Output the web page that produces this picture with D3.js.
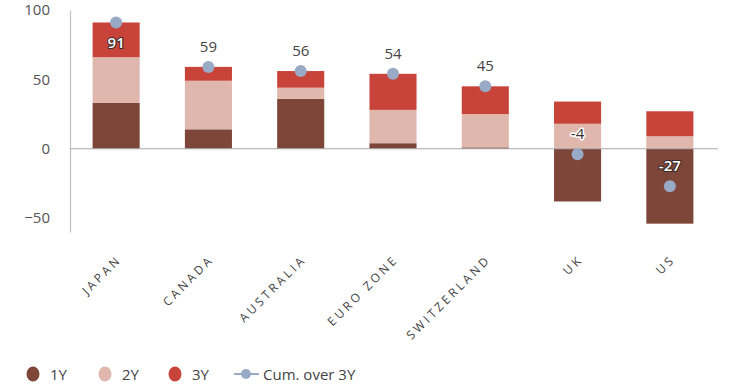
<!DOCTYPE html>
<html>
<head>
<meta charset="utf-8">
<script src="https://cdn.jsdelivr.net/npm/d3@7"></script>
<style>
  body { margin: 0; background: #fff; }
  svg { display: block; font-family: 'Open Sans', sans-serif; }
</style>
</head>
<body>
<svg id="svg"></svg>
<script>
// data
const countries = ['JAPAN', 'CANADA', 'AUSTRALIA', 'EURO ZONE', 'SWITZERLAND', 'UK', 'US'];
const y1 = [33, 14, 36, 4, 1, -38, -54];
const y2 = [33, 35, 8, 24, 24, 18, 9];
const y3 = [25, 10, 12, 26, 20, 16, 18];
const cum = [91, 59, 56, 54, 45, -4, -27];
const yTicks = [-50, 0, 50, 100];

const keys = ['1Y', '2Y', '3Y'];
const colours = { '1Y': '#7e4539', '2Y': '#e0b7ac', '3Y': '#c8443a' };
const dotColour = '#98aac6';

const width = 730;
const height = 389;

const rows = countries.map((c, i) => ({ country: c, '1Y': y1[i], '2Y': y2[i], '3Y': y3[i], cum: cum[i] }));

const svg = d3.select('#svg')
  .attr('width', width)
  .attr('height', height);

// SCALES
const xScale = d3.scaleBand()
  .domain(countries)
  .range([70, 716])
  .paddingInner(0.49)
  .paddingOuter(0.245);

const yScale = d3.scaleLinear()
  .domain([-60, 100])
  .range([232, 10]);

// Y AXIS (line + labels only)
const yAxis = svg.append('g')
  .attr('transform', 'translate(70,0)')
  .call(d3.axisLeft(yScale).tickValues(yTicks).tickSize(0).tickPadding(20));
yAxis.select('.domain').attr('stroke', '#c4c4c4').attr('stroke-width', 1.3);
yAxis.selectAll('text')
  .attr('font-size', '15px')
  .attr('font-family', "'Open Sans', sans-serif")
  .attr('fill', '#555');

// STACKED BARS
const series = d3.stack().keys(keys).offset(d3.stackOffsetDiverging)(rows);

svg.append('g')
  .selectAll('g')
  .data(series)
  .join('g')
  .attr('fill', d => colours[d.key])
  .selectAll('rect')
  .data(d => d)
  .join('rect')
  .attr('x', d => xScale(d.data.country))
  .attr('y', d => yScale(Math.max(d[0], d[1])))
  .attr('width', xScale.bandwidth())
  .attr('height', d => Math.abs(yScale(d[0]) - yScale(d[1])));

// ZERO LINE
svg.append('line')
  .attr('x1', 70).attr('x2', 718)
  .attr('y1', yScale(0)).attr('y2', yScale(0))
  .attr('stroke', '#a8a8a8')
  .attr('stroke-width', 1);

// CUMULATIVE DOTS
const cx = d => xScale(d.country) + xScale.bandwidth() / 2;
svg.append('g')
  .selectAll('circle')
  .data(rows)
  .join('circle')
  .attr('cx', cx)
  .attr('cy', d => yScale(d.cum))
  .attr('r', 6)
  .attr('fill', dotColour);

// which segment sits behind a value
function segmentAt(d, v) {
  const s = series.map(k => k.find(p => p.data.country === d.country));
  for (let i = 0; i < keys.length; i++) {
    const lo = Math.min(s[i][0], s[i][1]), hi = Math.max(s[i][0], s[i][1]);
    if (v >= lo && v <= hi && hi > lo) return keys[i];
  }
  return null;
}

// LABELS
const labels = svg.append('g')
  .selectAll('text')
  .data(rows)
  .join('text')
  .attr('x', cx)
  .attr('y', d => {
    const py = yScale(d.cum);
    return py - 21 < 12 ? py + 20 : py - 21;
  })
  .attr('text-anchor', 'middle')
  .attr('dominant-baseline', 'central')
  .attr('font-size', '15px')
  .attr('paint-order', 'stroke')
  .attr('stroke-linejoin', 'round')
  .text(d => d.cum);

labels.each(function(d) {
  const t = d3.select(this);
  const v = yScale.invert(+t.attr('y'));
  const seg = segmentAt(d, v);
  if (seg === '1Y' || seg === '3Y') {
    t.attr('fill', '#fff').attr('stroke', '#3a2a28').attr('stroke-width', 2.2).attr('font-weight', 600);
  } else if (seg === '2Y') {
    t.attr('fill', '#333').attr('stroke', '#fff').attr('stroke-width', 3);
  } else {
    t.attr('fill', '#444').attr('stroke', 'none');
  }
});

// X LABELS
svg.append('g')
  .selectAll('text')
  .data(countries)
  .join('text')
  .attr('transform', d => `translate(${xScale(d) + xScale.bandwidth() / 2 + 3},${257}) rotate(-45)`)
  .attr('text-anchor', 'end')
  .attr('dominant-baseline', 'central')
  .attr('font-size', '12px')
  .attr('letter-spacing', '3px')
  .attr('fill', '#444')
  .text(d => d);

// LEGEND
const legend = svg.append('g').attr('transform', 'translate(0,374)');
const legendItems = [
  { key: '1Y', x: 33 },
  { key: '2Y', x: 105 },
  { key: '3Y', x: 175 }
];
legendItems.forEach(it => {
  legend.append('ellipse')
    .attr('cx', it.x).attr('cy', 0)
    .attr('rx', 6.5).attr('ry', 7.5)
    .attr('fill', colours[it.key]);
  legend.append('text')
    .attr('x', it.x + 17).attr('y', 0)
    .attr('dominant-baseline', 'central')
    .attr('font-size', '15px')
    .attr('fill', '#444')
    .text(it.key);
});
legend.append('line')
  .attr('x1', 234).attr('x2', 259)
  .attr('y1', 0).attr('y2', 0)
  .attr('stroke', dotColour).attr('stroke-width', 2);
legend.append('circle')
  .attr('cx', 246).attr('cy', 0).attr('r', 5)
  .attr('fill', dotColour);
legend.append('text')
  .attr('x', 263).attr('y', 0)
  .attr('dominant-baseline', 'central')
  .attr('font-size', '15px')
  .attr('fill', '#444')
  .text('Cum. over 3Y');
</script>
</body>
</html>
